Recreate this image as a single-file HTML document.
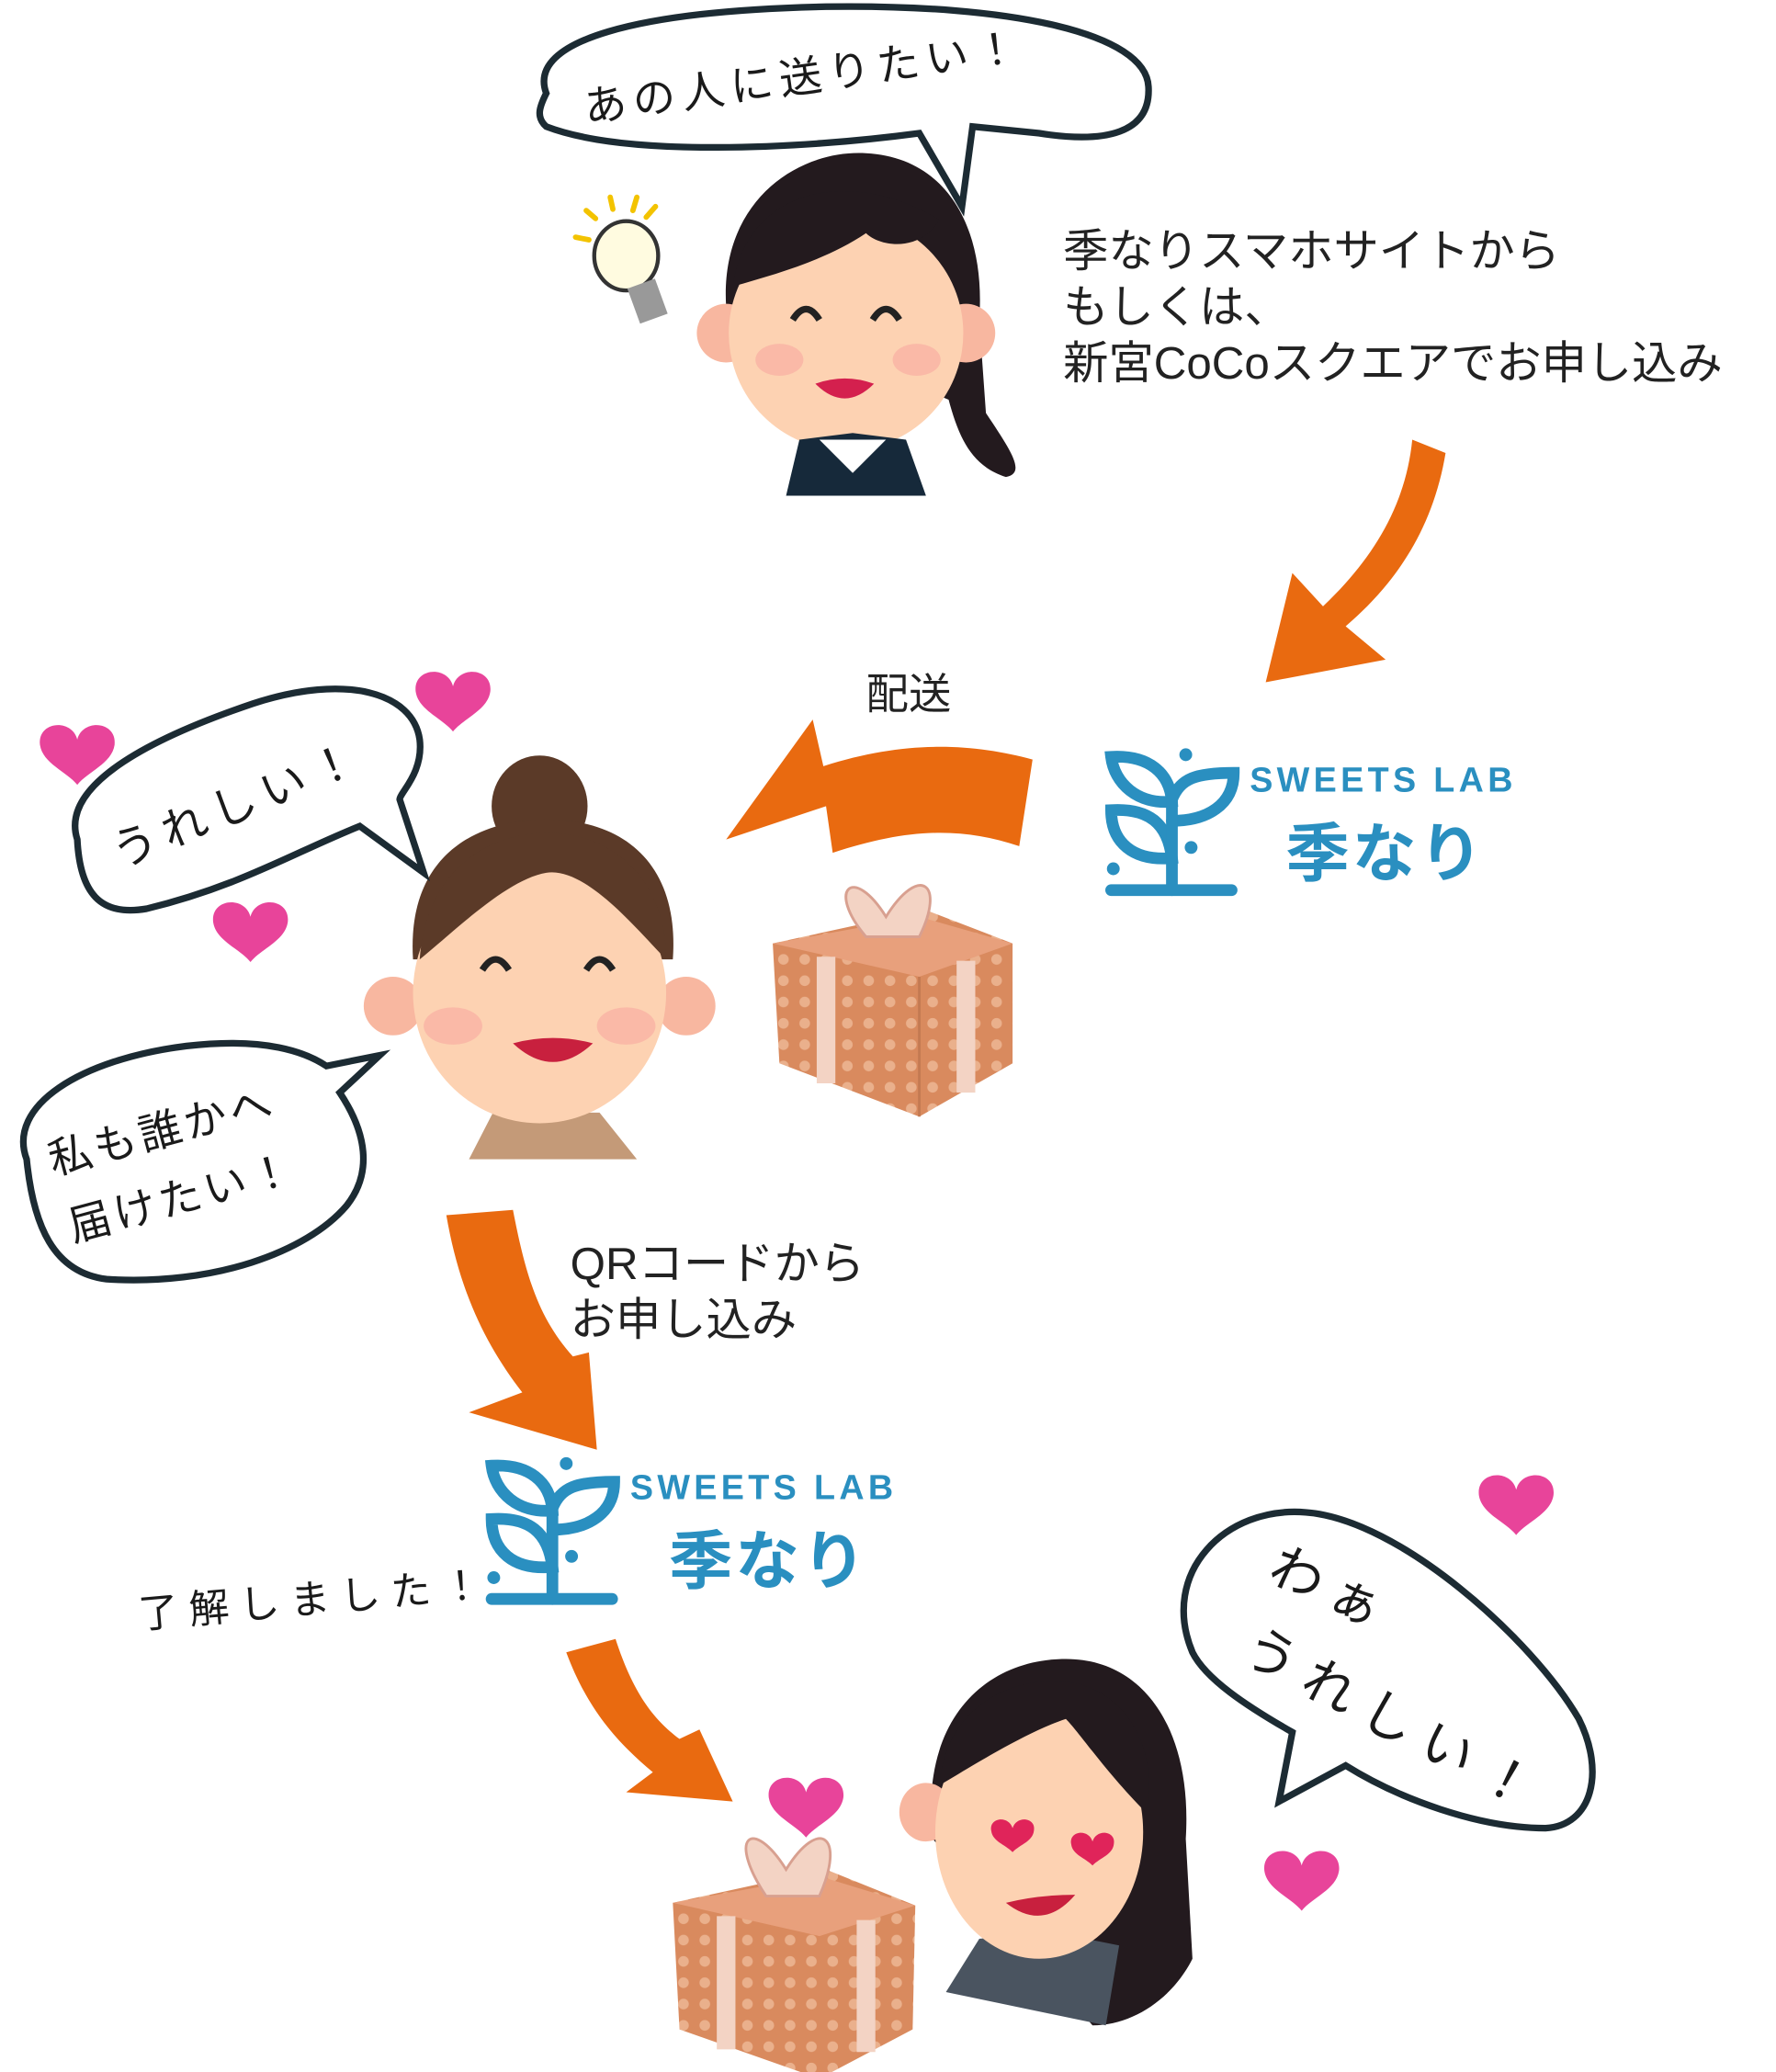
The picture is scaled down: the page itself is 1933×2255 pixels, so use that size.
<!DOCTYPE html>
<html><head><meta charset="utf-8"><style>
html,body{margin:0;padding:0;background:#fff}
svg{display:block}
.t{font-family:"Liberation Sans","Noto Sans CJK JP",sans-serif;fill:#222}
.h{font-family:"Liberation Sans","Noto Sans CJK JP",sans-serif;fill:#1a1a1a}
.lg{font-family:"Liberation Sans","Noto Sans CJK JP",sans-serif;fill:#2a8fc0;font-weight:bold}
</style></head><body>
<svg width="1933" height="2255" viewBox="0 0 1333 1555" preserveAspectRatio="none" xmlns="http://www.w3.org/2000/svg">
<defs>
<pattern id="dots" width="16" height="16" patternUnits="userSpaceOnUse"><rect width="16" height="16" fill="#d98a5e"/><circle cx="8" cy="8" r="4" fill="#eab08c"/></pattern>
<path id="heart" d="M0,10 C-4,-6 -30,-4 -28,14 C-26,28 -8,34 0,44 C8,34 26,28 28,14 C30,-4 4,-6 0,10Z" fill="#e8449a"/>
<g id="icon">
<g fill="none" stroke="#2a8fc0" stroke-width="11" stroke-linecap="round">
<path d="M5,10 C40,8 60,25 62,52 C30,55 8,35 5,10Z"/>
<path d="M62,50 C70,30 85,25 120,25 C120,55 95,70 62,70"/>
<path d="M5,60 C40,58 58,72 62,105 C25,108 5,90 5,60Z"/>
<line x1="62" y1="50" x2="62" y2="135"/>
<line x1="5" y1="135" x2="118" y2="135"/>
</g>
<circle cx="75" cy="8" r="6" fill="#2a8fc0"/><circle cx="80" cy="95" r="6" fill="#2a8fc0"/><circle cx="7" cy="115" r="6" fill="#2a8fc0"/>
</g>
</defs>

<!-- bubble 1 -->
<path d="M410,70 C395,30 480,8 620,5 C760,3 860,25 862,65 C864,100 830,108 780,100 L730,95 L722,155 L690,100 C600,112 470,118 410,95 C402,88 405,80 410,70Z" fill="#fff" stroke="#1c2b33" stroke-width="5"/>
<text class="h" x="440" y="92" font-size="32" transform="rotate(-8 440 92)" letter-spacing="5">あの人に送りたい！</text>

<!-- lightbulb -->
<g stroke="#f3c300" stroke-width="4" stroke-linecap="round"><line x1="432" y1="178" x2="442" y2="180"/><line x1="440" y1="158" x2="447" y2="164"/><line x1="458" y1="148" x2="460" y2="157"/><line x1="478" y1="148" x2="475" y2="158"/><line x1="492" y1="155" x2="485" y2="163"/></g>
<ellipse cx="470" cy="192" rx="24" ry="26" fill="#fffbe0" stroke="#333" stroke-width="3"/>
<rect x="475" y="212" width="22" height="28" fill="#999" transform="rotate(-20 486 226)"/>

<!-- woman 1 -->
<path d="M545,230 C540,150 600,112 650,115 C710,118 740,170 735,240 L740,310 C760,340 770,355 755,358 C730,350 720,330 712,300Z" fill="#231a1e"/>
<ellipse cx="545" cy="250" rx="22" ry="22" fill="#f8b7a0"/>
<ellipse cx="725" cy="250" rx="22" ry="22" fill="#f8b7a0"/>
<ellipse cx="635" cy="250" rx="88" ry="88" fill="#fdd2b2"/>
<path d="M550,215 C560,140 640,125 705,165 C690,190 660,185 650,175 C620,195 585,205 550,215Z" fill="#231a1e"/>
<path d="M595,240 q10,-16 20,0 M655,240 q10,-16 20,0" stroke="#222" stroke-width="5" fill="none"/>
<path d="M612,288 q22,22 44,0 q-22,-8 -44,0Z" fill="#d4204e"/>
<ellipse cx="585" cy="270" rx="18" ry="12" fill="#f9a9a0" opacity=".6"/><ellipse cx="688" cy="270" rx="18" ry="12" fill="#f9a9a0" opacity=".6"/>
<path d="M590,372 L600,330 L640,325 L680,330 L695,372Z" fill="#16293a"/>
<path d="M615,330 L640,355 L665,330Z" fill="#fff"/>

<text class="t" font-size="34"><tspan x="798" y="200">季なりスマホサイトから</tspan><tspan x="798" y="242">もしくは、</tspan><tspan x="798" y="284">新宮CoCoスクエアでお申し込み</tspan></text>

<!-- arrow 1 -->
<path d="M1060,330 L1085,340 C1075,400 1045,440 1010,470 L1040,495 L950,512 L970,430 L993,455 C1030,420 1055,380 1060,330Z" fill="#e96a10"/>

<!-- logo 1 -->
<use href="#icon" transform="translate(830,560) scale(0.8)"/>
<text class="lg" x="938" y="594" font-size="26" letter-spacing="3">SWEETS LAB</text>
<text class="lg" x="965" y="657" font-size="48" letter-spacing="2">季なり</text>

<text class="t" x="650" y="532" font-size="32">配送</text>

<!-- arrow 2 -->
<path d="M775,570 L765,635 C720,620 680,622 625,640 L620,605 L545,630 L610,540 L618,575 C680,555 730,558 775,570Z" fill="#e96a10"/>

<!-- gift 1 -->
<g transform="translate(580,648)">
<path d="M0,60 L115,35 L180,60 L180,150 L110,190 L5,150Z" fill="url(#dots)"/>
<path d="M0,60 L110,85 L180,60 L110,40Z" fill="#e8a07c"/>
<path d="M110,85 L110,190" stroke="#c47a52" stroke-width="2"/>
<path d="M40,70 L40,165 M145,73 L145,172" stroke="#f3d3c4" stroke-width="14"/>
<path d="M70,55 C40,20 60,0 85,40 C110,0 130,15 110,55Z" fill="#f3d3c4" stroke="#d8a090" stroke-width="2"/>
</g>

<!-- woman 2 -->
<ellipse cx="405" cy="605" rx="36" ry="38" fill="#5b3a28"/>
<ellipse cx="295" cy="755" rx="22" ry="22" fill="#f8b7a0"/>
<ellipse cx="515" cy="755" rx="22" ry="22" fill="#f8b7a0"/>
<path d="M310,720 C305,640 360,615 410,615 C470,615 510,650 505,720Z" fill="#5b3a28"/>
<path d="M352,870 L370,835 L450,835 L478,870Z" fill="#c49a78"/>
<ellipse cx="405" cy="745" rx="95" ry="98" fill="#fdd2b2"/>
<path d="M315,720 C320,650 370,625 410,625 C460,625 500,660 500,720 C480,700 440,650 410,655 C380,660 340,700 315,720Z" fill="#5b3a28"/>
<path d="M362,728 q10,-16 20,0 M440,728 q10,-16 20,0" stroke="#222" stroke-width="5" fill="none"/>
<path d="M385,783 q30,28 60,0 q-30,-8 -60,0Z" fill="#c8203e"/>
<ellipse cx="340" cy="770" rx="22" ry="14" fill="#f9a9a0" opacity=".6"/><ellipse cx="470" cy="770" rx="22" ry="14" fill="#f9a9a0" opacity=".6"/>

<!-- bubble 2 -->
<path d="M58,630 C45,590 110,555 190,528 C260,505 310,520 315,555 C318,580 300,595 300,600 L318,655 L270,620 C220,640 180,665 110,682 C75,688 60,670 58,630Z" fill="#fff" stroke="#1c2b33" stroke-width="5"/>
<text class="h" x="90" y="652" font-size="34" transform="rotate(-22 90 652)" letter-spacing="6">うれしい！</text>

<!-- bubble 3 -->
<path d="M20,870 C5,830 60,795 140,785 C200,778 230,790 245,800 L285,792 L255,820 C275,850 280,880 260,905 C230,940 160,965 80,960 C40,955 25,920 20,870Z" fill="#fff" stroke="#1c2b33" stroke-width="5"/>
<text class="h" x="40" y="882" font-size="32" letter-spacing="3" transform="rotate(-15 40 882)">私も誰かへ</text>
<text class="h" x="55" y="932" font-size="32" letter-spacing="3" transform="rotate(-15 55 932)">届けたい！</text>

<!-- hearts -->
<use href="#heart" transform="translate(58,545)"/>
<use href="#heart" transform="translate(340,505)"/>
<use href="#heart" transform="translate(188,678)"/>
<use href="#heart" transform="translate(1138,1108)"/>
<use href="#heart" transform="translate(977,1390)"/>
<use href="#heart" transform="translate(605,1335)"/>

<!-- arrow 3 -->
<path d="M335,912 L385,908 C395,960 405,990 430,1018 L442,1015 L448,1088 L352,1060 L392,1045 C365,1010 345,970 335,912Z" fill="#e96a10"/>

<text class="t" font-size="34"><tspan x="428" y="960">QRコードから</tspan><tspan x="428" y="1002">お申し込み</tspan></text>

<!-- logo 2 -->
<use href="#icon" transform="translate(365,1092) scale(0.8)"/>
<text class="lg" x="473" y="1125" font-size="26" letter-spacing="3">SWEETS LAB</text>
<text class="lg" x="502" y="1188" font-size="48" letter-spacing="2">季なり</text>

<text class="h" x="105" y="1222" font-size="30" letter-spacing="8" transform="rotate(-5 105 1222)">了解しました！</text>

<!-- arrow 4 -->
<path d="M425,1240 L462,1230 C475,1270 490,1290 510,1305 L525,1298 L550,1352 L470,1345 L490,1330 C460,1305 440,1280 425,1240Z" fill="#e96a10"/>

<!-- gift 2 -->
<g transform="translate(505,1368)">
<path d="M0,60 L115,35 L182,62 L180,155 L110,192 L5,155Z" fill="url(#dots)"/>
<path d="M0,60 L110,85 L182,62 L110,40Z" fill="#e8a07c"/>
<path d="M40,70 L40,170 M145,73 L145,172" stroke="#f3d3c4" stroke-width="14"/>
<path d="M70,55 C40,10 60,-5 85,35 C110,-5 130,10 110,55Z" fill="#f3d3c4" stroke="#d8a090" stroke-width="2"/>
</g>

<!-- woman 3 -->
<path d="M700,1380 C690,1290 740,1245 800,1245 C860,1245 895,1300 890,1380 L895,1470 C880,1500 850,1520 820,1520 Z" fill="#231a1e"/>
<ellipse cx="695" cy="1360" rx="20" ry="22" fill="#f8b7a0"/>
<path d="M710,1495 L735,1455 L790,1450 L840,1460 L830,1520Z" fill="#4a5460"/>
<ellipse cx="780" cy="1375" rx="78" ry="95" fill="#fdd2b2"/>
<path d="M705,1340 C710,1280 760,1258 800,1262 C850,1268 870,1320 860,1360 C830,1330 810,1300 800,1290 C770,1300 730,1325 705,1340Z" fill="#231a1e"/>
<g fill="#e0245a"><path d="M760,1372 c-3,-10 -18,-8 -16,2 c1,8 10,10 16,16 c6,-6 15,-8 16,-16 c2,-10 -13,-12 -16,-2Z"/><path d="M820,1382 c-3,-10 -18,-8 -16,2 c1,8 10,10 16,16 c6,-6 15,-8 16,-16 c2,-10 -13,-12 -16,-2Z"/></g>
<path d="M755,1428 q28,22 52,-6 q-28,0 -52,6Z" fill="#c8203e"/>

<!-- bubble 4 -->
<path d="M895,1240 C870,1180 920,1130 980,1135 C1050,1140 1150,1230 1185,1290 C1205,1330 1195,1370 1160,1372 C1110,1372 1050,1350 1010,1325 L960,1352 L970,1300 C935,1280 905,1260 895,1240Z" fill="#fff" stroke="#1c2b33" stroke-width="5"/>
<text class="h" x="950" y="1185" font-size="40" letter-spacing="8" transform="rotate(25 950 1185)">わぁ</text>
<text class="h" x="930" y="1245" font-size="40" letter-spacing="10" transform="rotate(28 930 1245)">うれしい！</text>
</svg>
</body></html>
